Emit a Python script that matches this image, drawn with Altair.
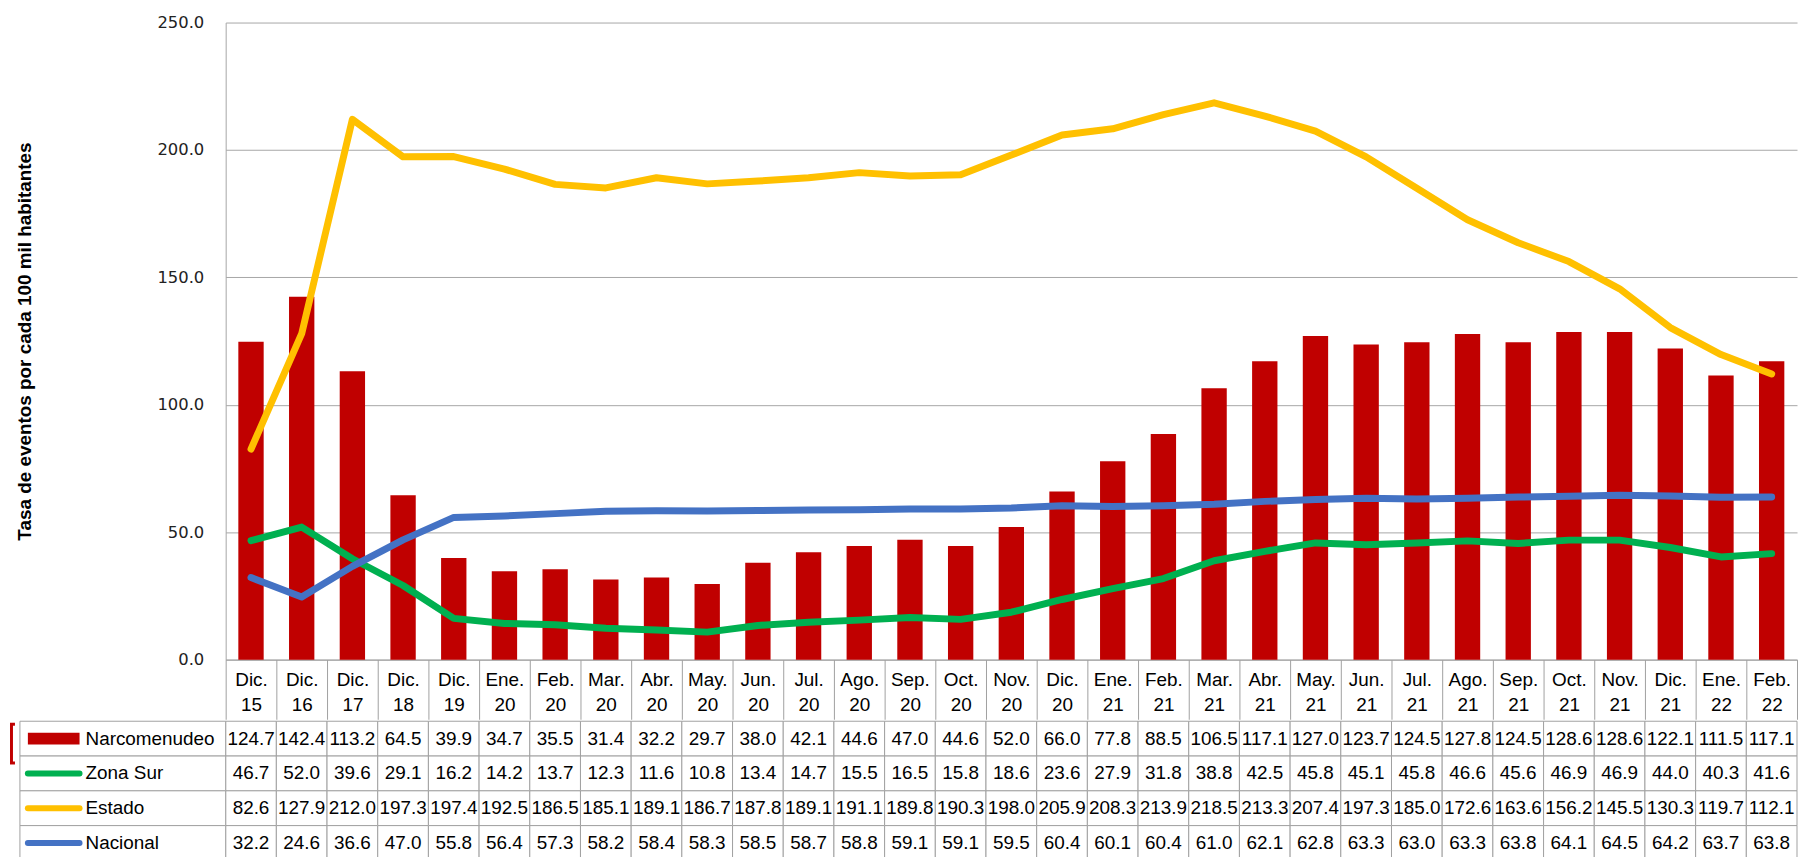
import altair as alt
import pandas as pd

categorias = ["Dic. 15", "Dic. 16", "Dic. 17", "Dic. 18", "Dic. 19",
              "Ene. 20", "Feb. 20", "Mar. 20", "Abr. 20", "May. 20", "Jun. 20",
              "Jul. 20", "Ago. 20", "Sep. 20", "Oct. 20", "Nov. 20", "Dic. 20",
              "Ene. 21", "Feb. 21", "Mar. 21", "Abr. 21", "May. 21", "Jun. 21",
              "Jul. 21", "Ago. 21", "Sep. 21", "Oct. 21", "Nov. 21", "Dic. 21",
              "Ene. 22", "Feb. 22"]

narcomenudeo = [124.7, 142.4, 113.2, 64.5, 39.9, 34.7, 35.5, 31.4, 32.2, 29.7, 38.0,
                42.1, 44.6, 47.0, 44.6, 52.0, 66.0, 77.8, 88.5, 106.5, 117.1, 127.0,
                123.7, 124.5, 127.8, 124.5, 128.6, 128.6, 122.1, 111.5, 117.1]
zona_sur = [46.7, 52.0, 39.6, 29.1, 16.2, 14.2, 13.7, 12.3, 11.6, 10.8, 13.4,
            14.7, 15.5, 16.5, 15.8, 18.6, 23.6, 27.9, 31.8, 38.8, 42.5, 45.8,
            45.1, 45.8, 46.6, 45.6, 46.9, 46.9, 44.0, 40.3, 41.6]
estado = [82.6, 127.9, 212.0, 197.3, 197.4, 192.5, 186.5, 185.1, 189.1, 186.7, 187.8,
          189.1, 191.1, 189.8, 190.3, 198.0, 205.9, 208.3, 213.9, 218.5, 213.3, 207.4,
          197.3, 185.0, 172.6, 163.6, 156.2, 145.5, 130.3, 119.7, 112.1]
nacional = [32.2, 24.6, 36.6, 47.0, 55.8, 56.4, 57.3, 58.2, 58.4, 58.3, 58.5,
            58.7, 58.8, 59.1, 59.1, 59.5, 60.4, 60.1, 60.4, 61.0, 62.1, 62.8,
            63.3, 63.0, 63.3, 63.8, 64.1, 64.5, 64.2, 63.7, 63.8]

series = ["Narcomenudeo", "Zona Sur", "Estado", "Nacional"]
colores = ["#C00000", "#00B050", "#FFC000", "#4472C4"]
valores = [narcomenudeo, zona_sur, estado, nacional]
y_ticks = [0, 50, 100, 150, 200, 250]
titulo_y = "Tasa de eventos por cada 100  mil habitantes"

rows = []
for s, vals in zip(series, valores):
    for c, v in zip(categorias, vals):
        rows.append({"cat": c, "serie": s, "valor": v, "txt": f"{v:.1f}"})
df = pd.DataFrame(rows)
leg = pd.DataFrame({"serie": series, "color": colores})

W = 1581
BORDER = "#A0A0A0"
GRID = "#A6A6A6"
TFONT = "Liberation Sans"

xscale = alt.Scale(type="band", domain=categorias, paddingInner=0, paddingOuter=0)

x_top = alt.X("cat:N", sort=categorias, scale=xscale, title=None,
              axis=alt.Axis(labelExpr="split(datum.label, ' ')", labelAngle=0,
                            tickBand="extent", tickSize=60, tickColor=BORDER,
                            domainColor=BORDER, labelPadding=-49, labelBaseline="top",
                            labelLineHeight=25, labelFont=TFONT, labelFontSize=19,
                            labelColor="black", labelOverlap=False))
y_top = alt.Y("valor:Q", scale=alt.Scale(domain=[0, 250], nice=False),
              axis=alt.Axis(values=y_ticks, format=".1f", grid=True, gridColor=GRID,
                            ticks=False, labelPadding=22, labelFont="DejaVu Sans",
                            labelFontSize=16.5, labelColor="#222222", title=titulo_y,
                            titleFont=TFONT, titleFontWeight="bold", titleFontSize=19,
                            titlePadding=123, titleColor="black", domainColor=GRID))

base = alt.Chart(df)
bars = base.transform_filter(alt.datum.serie == "Narcomenudeo").mark_bar(
    color="#C00000", width=alt.RelativeBandSize(0.5)).encode(x=x_top, y=y_top)

def linea(nombre, color):
    return base.transform_filter(alt.datum.serie == nombre).mark_line(
        color=color, strokeWidth=7, strokeCap="round", strokeJoin="round"
    ).encode(x=x_top, y=y_top)

top = alt.layer(bars, linea("Zona Sur", "#00B050"), linea("Estado", "#FFC000"),
                linea("Nacional", "#4472C4")).properties(width=W, height=641)

# data table
x_tab = alt.X("cat:N", sort=categorias, scale=xscale, axis=None)
y_tab = alt.Y("serie:N", sort=series,
              scale=alt.Scale(type="band", domain=series, paddingInner=0, paddingOuter=0),
              axis=None)

cells = base.mark_rect(fill="white", stroke=BORDER, strokeWidth=1).encode(x=x_tab, y=y_tab)
texts = base.mark_text(font=TFONT, fontSize=19, color="black", baseline="middle").encode(
    x=x_tab, y=y_tab, text="txt:N")

lchart = alt.Chart(leg)
leg_cells = lchart.mark_rect(fill="white", stroke=BORDER, strokeWidth=1).encode(
    x=alt.value(-207), x2=alt.value(0), y=y_tab)
leg_bar = lchart.transform_filter(alt.datum.serie == "Narcomenudeo").mark_rule(
    strokeWidth=12, strokeCap="butt").encode(
    x=alt.value(-199), x2=alt.value(-147), y=y_tab,
    color=alt.Color("color:N", scale=None))
leg_lines = lchart.transform_filter(alt.datum.serie != "Narcomenudeo").mark_rule(
    strokeWidth=6, strokeCap="round").encode(
    x=alt.value(-199), x2=alt.value(-147), y=y_tab,
    color=alt.Color("color:N", scale=None))
leg_text = lchart.mark_text(font=TFONT, fontSize=19, color="black", align="left",
                            baseline="middle").encode(
    x=alt.value(-141), y=y_tab, text="serie:N")

bracket_v = lchart.transform_filter(alt.datum.serie == "Narcomenudeo").mark_rule(
    color="#C00000", strokeWidth=3).encode(
    x=alt.value(-215.5), y=alt.value(3), y2=alt.value(42))
bracket_t = lchart.transform_filter(alt.datum.serie == "Narcomenudeo").mark_rule(
    color="#C00000", strokeWidth=3).encode(
    x=alt.value(-217), x2=alt.value(-212), y=alt.value(3))
bracket_b = lchart.transform_filter(alt.datum.serie == "Narcomenudeo").mark_rule(
    color="#C00000", strokeWidth=3).encode(
    x=alt.value(-217), x2=alt.value(-212), y=alt.value(42))

table = alt.layer(cells, texts, leg_cells, leg_bar, leg_lines, leg_text,
                  bracket_v, bracket_t, bracket_b).properties(width=W, height=140)

chart = alt.vconcat(top, table, spacing=0).properties(
    padding={"left": 0, "top": 4, "right": 0, "bottom": 0}
).configure_view(stroke=None)

chart.save("out.html", embed_options={"renderer": "svg", "actions": False})
